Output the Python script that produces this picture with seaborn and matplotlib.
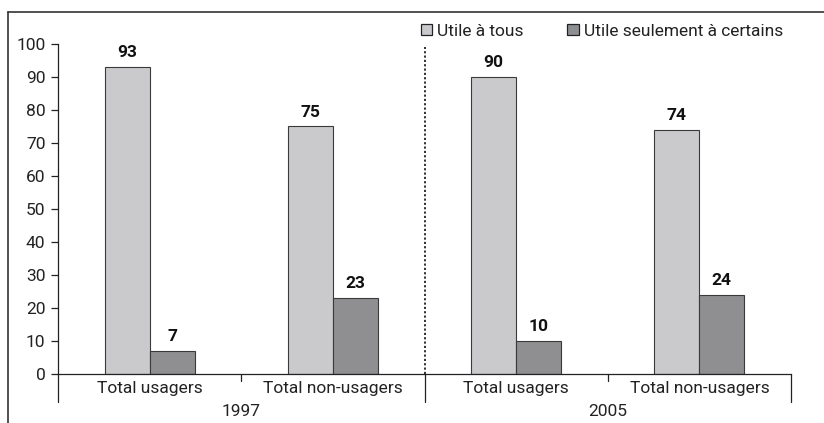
import matplotlib
matplotlib.use("Agg")
import matplotlib.pyplot as plt
from matplotlib.lines import Line2D
from matplotlib.patches import Patch
import seaborn as sns
import pandas as pd

# Data
years = ["1997", "2005"]
groups = ["Total usagers", "Total non-usagers"]
series = ["Utile à tous", "Utile seulement à certains"]
utile_tous = [93, 75, 90, 74]
utile_certains = [7, 23, 10, 24]
colors = ["#C9C9CD", "#8E8F93"]

keys = [f"{y} {g}" for y in years for g in groups]
df = pd.DataFrame({
    "cat": keys * 2,
    "serie": [series[0]] * 4 + [series[1]] * 4,
    "val": utile_tous + utile_certains,
})

sns.set_theme(style="white")
plt.rcParams["font.family"] = ["Roboto", "DejaVu Sans"]

W, H = 824, 423
fig = plt.figure(figsize=(W / 100, H / 100), dpi=100)
ax = fig.add_axes([58 / W, 1 - 374 / H, (791 - 58) / W, (374 - 44) / H])

sns.barplot(data=df, x="cat", y="val", hue="serie", order=keys,
            hue_order=series, palette=colors, width=0.49,
            edgecolor="#3a3a3a", linewidth=0.8, legend=False, ax=ax)

# value labels
for cont in ax.containers:
    ax.bar_label(cont, labels=[f"{v:.0f}" for v in cont.datavalues],
                 padding=5, fontsize=12.5, fontweight="bold", color="#111111")

ax.set_ylim(0, 100)
ax.set_xlim(-0.5, 3.5)
ax.set_yticks(range(0, 101, 10))
ax.tick_params(axis="y", direction="out", length=5, width=0.9,
               labelsize=12.5, colors="#222222", pad=4, left=True)
ax.set_xticks([])
ax.set_xlabel("")
ax.set_ylabel("")
for s in ["top", "right"]:
    ax.spines[s].set_visible(False)
ax.spines["left"].set_color("#222222")
ax.spines["bottom"].set_color("#222222")
ax.spines["left"].set_linewidth(0.9)
ax.spines["bottom"].set_linewidth(0.9)

# two-level category axis
px = 1 / (374 - 44)  # one pixel in axes fraction (vertical)
trans = ax.get_xaxis_transform()
lw = 0.9
for xpos in [-0.5, 3.5]:
    ax.add_line(Line2D([xpos, xpos], [0, -28 * px], transform=trans,
                       color="#222222", lw=lw, clip_on=False))
ax.add_line(Line2D([1.5, 1.5], [0, -28 * px], transform=trans,
                   color="#222222", lw=lw, clip_on=False))
ax.add_line(Line2D([1.5, 1.5], [0, (374 - 47) * px], transform=trans,
                   color="#222222", lw=1.3, ls=(0, (1.2, 1.2)), clip_on=False))
for xpos in [0.5, 2.5]:
    ax.add_line(Line2D([xpos, xpos], [0, -7 * px], transform=trans,
                       color="#222222", lw=lw, clip_on=False))

for i, key in enumerate(keys):
    ax.text(i, -14 * px, groups[i % 2], transform=trans, ha="center",
            va="center", fontsize=12.5, color="#222222")
for j, y in enumerate(years):
    ax.text(2 * j + 0.5, -37 * px, y, transform=trans, ha="center",
            va="center", fontsize=12.5, color="#222222")

# legend
handles = [Patch(facecolor=c, edgecolor="#222222", linewidth=0.9) for c in colors]
fig.legend(handles, series, loc="center left", bbox_to_anchor=(421 / W, 1 - 31 / H),
           ncol=2, frameon=False, fontsize=12.5, handlelength=0.66,
           handleheight=0.66, handletextpad=0.28, columnspacing=2.5,
           borderpad=0, borderaxespad=0, labelcolor="#222222")

# outer frame (left and top edges)
fig.add_artist(Line2D([8 / W, 8 / W], [0, 1 - 12 / H], transform=fig.transFigure,
                      color="#333333", lw=1.2))
fig.add_artist(Line2D([8 / W, 1], [1 - 12 / H, 1 - 12 / H], transform=fig.transFigure,
                      color="#333333", lw=1.2))

fig.savefig("out.png", dpi=100)
